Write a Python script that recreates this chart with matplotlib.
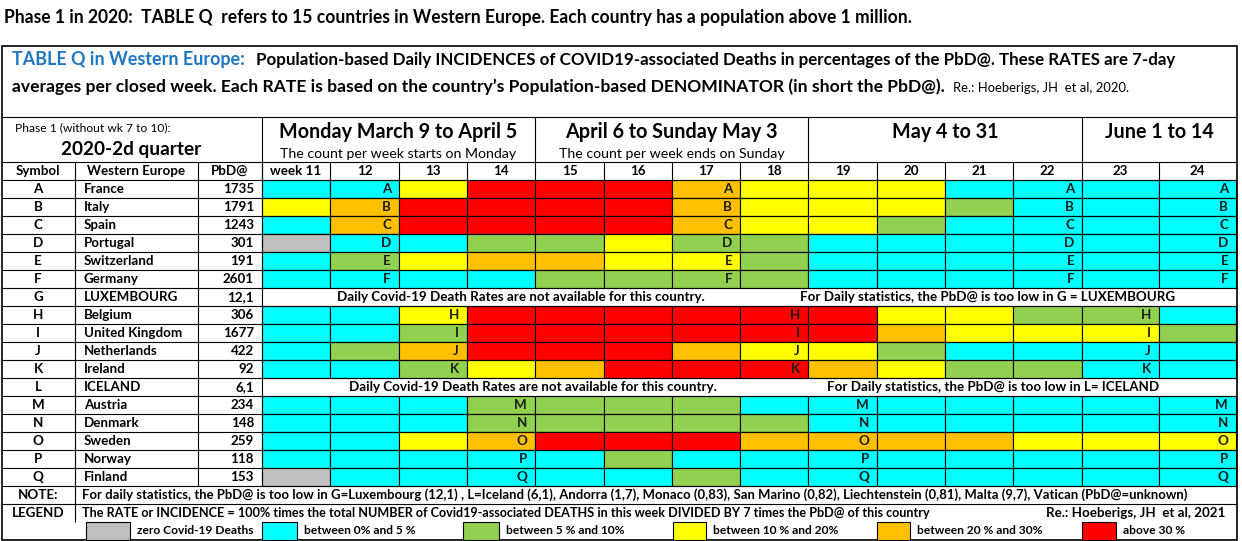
"""Table Q: weekly COVID-19 death rate classes, Western Europe, 2020"""

import numpy as np
import matplotlib
matplotlib.use("Agg")
import matplotlib.pyplot as plt

plt.rcParams['font.family'] = ['Lato', 'DejaVu Sans']

title = ("Phase 1 in 2020:  TABLE Q  refers to 15 countries in Western Europe. "
         "Each country has a population above 1 million.")
head_blue = "TABLE Q in Western Europe:"
head_1 = ("Population-based Daily INCIDENCES of COVID19-associated Deaths in "
          "percentages of the PbD@. These RATES are 7-day")
head_2 = ("averages per closed week. Each RATE is based on the country\u2019s "
          "Population-based DENOMINATOR (in short the PbD@).")
head_ref = "Re.: Hoeberigs, JH  et al, 2020."

weeks = ["week 11", "12", "13", "14", "15", "16", "17", "18",
         "19", "20", "21", "22", "23", "24"]
periods = ["Monday March 9 to April 5", "April 6 to Sunday May 3",
           "May 4 to 31", "June 1 to 14"]
period_notes = ["The count per week starts on Monday",
                "The count per week ends on Sunday", "", ""]
period_weeks = [4, 4, 4, 2]

symbols = list("ABCDEFGHIJKLMNOPQ")
countries = ["France", "Italy", "Spain", "Portugal", "Switzerland", "Germany",
             "LUXEMBOURG", "Belgium", "United Kingdom", "Netherlands",
             "Ireland", "ICELAND", "Austria", "Denmark", "Sweden", "Norway",
             "Finland"]
pbd = ["1735", "1791", "1243", "301", "191", "2601", "12,1", "306", "1677",
       "422", "92", "6,1", "234", "148", "259", "118", "153"]

# rate class per week 11..24: 0 zero, 1 <5%, 2 5-10%, 3 10-20%, 4 20-30%, 5 >30%
rates = ["11355543331111",
         "34555543332111",
         "14555543321111",
         "01122322111111",
         "12344332111111",
         "11112222111111",
         None,
         "11355555533221",
         "11255555543332",
         "12455543321111",
         "11234555432211",
         None,
         "11122221111111",
         "11122222111111",
         "11345554444333",
         "11111211111111",
         "01111121111111"]

# weeks in which the country symbol is repeated inside the cell
letter_weeks = ([["12", "17", "22", "24"]] * 6 + [[]] +
                [["13", "18", "23"]] * 4 + [[]] +
                [["14", "19", "24"]] * 5)

not_available = {
    "G": ("Daily Covid-19 Death Rates are not available for this country.",
          "For Daily statistics, the PbD@ is too low in G = LUXEMBOURG"),
    "L": ("Daily Covid-19 Death Rates are not available for this country.",
          "For Daily statistics, the PbD@ is too low in L= ICELAND"),
}

note = ("For daily statistics, the PbD@ is too low in G=Luxembourg (12,1) , "
        "L=Iceland (6,1), Andorra (1,7), Monaco (0,83), San Marino (0,82), "
        "Liechtenstein (0,81), Malta (9,7), Vatican (PbD@=unknown)")
legend_text = ("The RATE or INCIDENCE = 100% times the total NUMBER of "
               "Covid19-associated DEATHS in this week DIVIDED BY 7 times "
               "the PbD@ of this country")
legend_ref = "Re.: Hoeberigs, JH  et al, 2021"
legend_labels = ["zero Covid-19 Deaths", "between 0% and 5 %",
                 "between 5 % and 10%", "between 10 % and 20%",
                 "between 20 % and 30%", "above 30 %"]
palette = ["#BFBFBF", "#00FFFF", "#92D050", "#FFFF00", "#FFC000", "#FF0000"]

# ---- layout (pixels) ----
W, H = 1242, 541
L_, R_ = 2, 1237
col_edges = np.array([262, 330, 399, 467, 535, 604, 672, 740, 808, 877,
                      945, 1013, 1082, 1159, 1236])
x_sym, x_cty, x_pbd = 75, 198, 262
row_h = 18
tab_top = 162
swatch_x = [86, 262, 463, 673, 877, 1082]
swatch_w = [44, 35, 36, 33, 33, 34]

fig = plt.figure(figsize=(W / 100, H / 100), dpi=100)
ax = fig.add_axes([0, 0, 1, 1])
ax.set_xlim(0, W)
ax.set_ylim(H, 0)
ax.axis('off')
r = fig.canvas.get_renderer()


def txt(x, y, s, size, width=None, **kw):
    kw.setdefault('va', 'center')
    t = ax.text(x, y, s, fontsize=size, **kw)
    if width:
        t.set_fontsize(size * width / t.get_window_extent(r).width)
    return t


def fitted(s, size, width, **kw):
    t = txt(W / 2, H / 2, s, size, width=width, **kw)
    fs = t.get_fontsize()
    t.remove()
    return fs


lw = 0.8
# title and header block
txt(4, 17, title, 11, width=908, fontweight='bold')
ax.add_patch(plt.Rectangle((L_, 46), R_ - L_, 494, fill=False, lw=1.2))
txt(12, 60, head_blue, 12, width=231, fontweight='bold', color='#1F77C0')
txt(256, 60, head_1, 12, width=915, fontweight='bold')
txt(12, 87, head_2, 12, width=925, fontweight='bold')
txt(953, 88, head_ref, 8, width=175)
ax.hlines(117, L_, R_, color='black', lw=lw)

# phase / period headers
txt(15, 128, "Phase 1 (without wk 7 to 10):", 9, width=155)
txt(131, 150, "2020-2d quarter", 14, width=141, fontweight='bold', ha='center')
big = fitted(periods[0], 14, 239, fontweight='bold')
small = fitted(period_notes[0], 9, 237)
start = 0
for p, n, k in zip(periods, period_notes, period_weeks):
    x0, x1 = col_edges[start], col_edges[start + k]
    cx = (x0 + x1) / 2
    txt(cx, 132, p, big, fontweight='bold', ha='center')
    if n:
        txt(cx, 154, n, small, ha='center')
    ax.vlines(x0, 117, tab_top, color='black', lw=lw)
    start += k

# column headers
rs = fitted("Western Europe", 10, 98, fontweight='bold')
hy = tab_top + row_h / 2
txt(38, hy, "Symbol", rs, fontweight='bold', ha='center')
txt(136, hy, "Western Europe", rs, fontweight='bold', ha='center')
txt(230, hy, "PbD@", rs, fontweight='bold', ha='center')
for j, w in enumerate(weeks):
    txt((col_edges[j] + col_edges[j + 1]) / 2, hy, w, rs,
        fontweight='bold', ha='center')
    ax.vlines(col_edges[j], tab_top, tab_top + row_h, color='black', lw=lw)

# rows
for i, s in enumerate(symbols):
    top = tab_top + row_h * (i + 1)
    cy = top + row_h / 2
    txt(38, cy, s, rs, fontweight='bold', ha='center')
    txt(84, cy, countries[i], rs, fontweight='bold')
    txt(254, cy, pbd[i], rs, fontweight='bold', ha='right')
    if rates[i] is None:
        a, b = not_available[s]
        txt(337 if s == "G" else 349, cy, a, rs, fontweight='bold')
        txt(800 if s == "G" else 827, cy, b, rs, fontweight='bold')
        continue
    codes = [int(c) for c in rates[i]]
    ax.bar(col_edges[:-1], row_h, width=np.diff(col_edges), bottom=top,
           align='edge', color=[palette[c] for c in codes],
           edgecolor='black', linewidth=lw)
    for w in letter_weeks[i]:
        j = weeks.index(w)
        txt(col_edges[j + 1] - 8, cy, s, rs, fontweight='bold', ha='right',
            color='#1a1a1a')

n_rows = len(symbols)
q_bot = tab_top + row_h * (n_rows + 1)
ax.hlines([tab_top + row_h * k for k in range(n_rows + 3)], L_, R_,
          color='black', lw=lw)
ax.vlines([x_cty, x_pbd], tab_top, q_bot, color='black', lw=lw)
ax.vlines(x_sym, tab_top, q_bot + 2 * row_h, color='black', lw=lw)

# note and legend
ny = q_bot + row_h / 2
txt(38, ny, "NOTE:", rs, fontweight='bold', ha='center')
txt(82, ny, note, rs, width=1114, fontweight='bold')
ly = ny + row_h
txt(38, ly, "LEGEND", rs, fontweight='bold', ha='center')
txt(82, ly, legend_text, rs, width=851, fontweight='bold')
txt(1225, ly, legend_ref, rs, fontweight='bold', ha='right')
sy = q_bot + 2 * row_h
ax.bar(swatch_x, row_h, width=swatch_w, bottom=sy, align='edge',
       color=palette, edgecolor='black', linewidth=lw)
ls = rs * 0.9
for x, w, lab in zip(swatch_x, swatch_w, legend_labels):
    txt(x + w + 7, sy + row_h / 2, lab, ls, fontweight='bold')

plt.savefig("out.png", dpi=100)
